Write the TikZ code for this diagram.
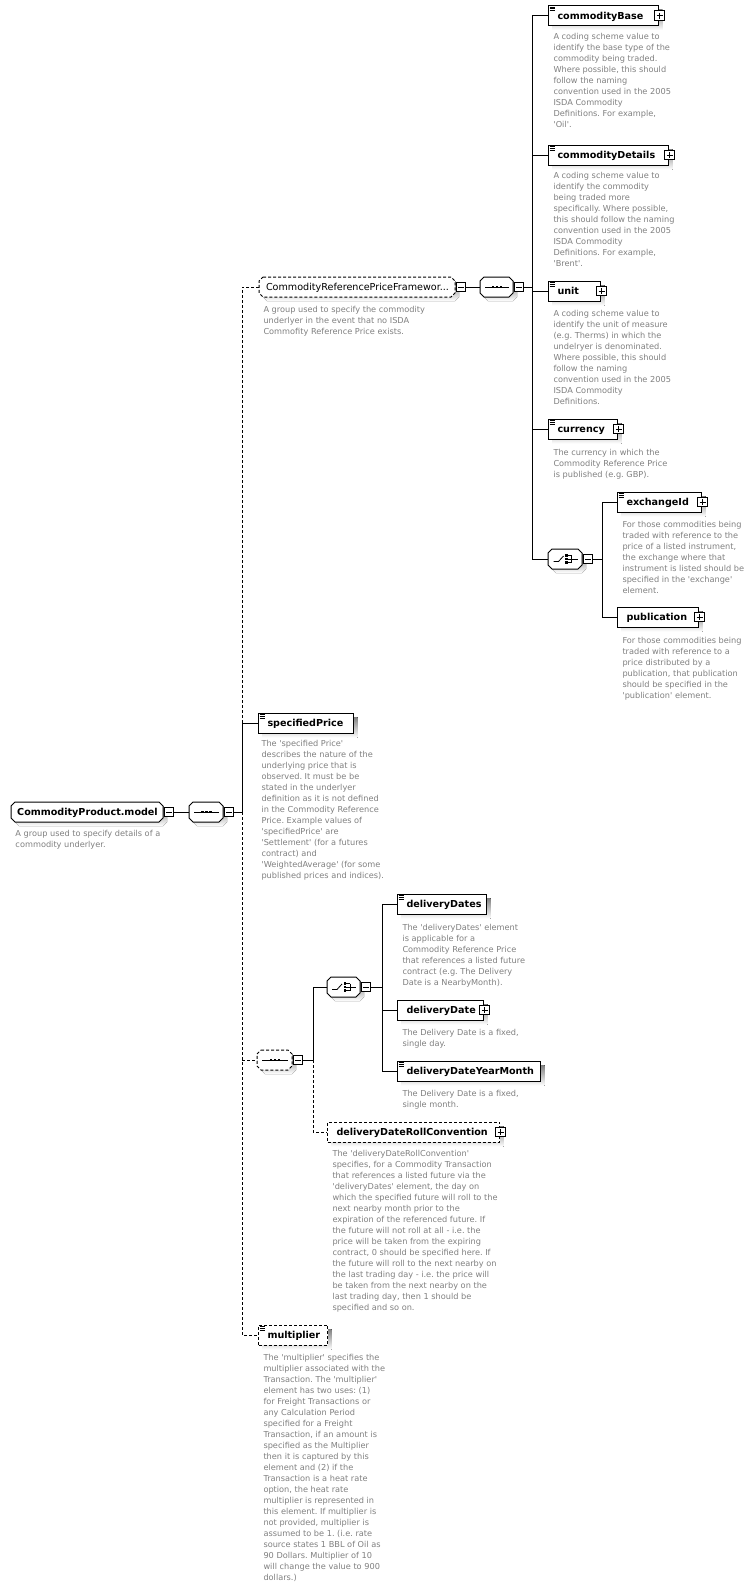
\documentclass[tikz,border=0pt]{standalone}
\usepackage{fontspec}
\setmainfont{DejaVu Sans}
\definecolor{shade}{RGB}{192,192,192}
\definecolor{descgray}{RGB}{128,128,128}
\newcommand{\titlefont}{\fontsize{9.6}{11}\selectfont\bfseries}
\newcommand{\namefont}{\fontsize{9.6}{11}\selectfont}
\newcommand{\descfont}{\fontsize{8.2}{11}\selectfont\frenchspacing}
\newcommand{\ap}{\textquotesingle}

\tikzset{
  elbox/.style={draw, fill=white, anchor=west, minimum height=20pt, inner sep=0pt},
  eltitle/.style={anchor=base west, inner sep=0pt, font=\titlefont},
  desc/.style={anchor=north west, inner sep=0pt, align=left, text=descgray, font=\descfont},
  pm/.style={draw, fill=white, minimum size=9.5pt, inner sep=0pt},
  opt/.style={dash pattern=on 3pt off 2pt},
  frame/.style={anchor=west, minimum height=20pt, inner sep=0pt},
}

% element box with shadow: [style]{name}{left}{right}{centre y}{title}
\newcommand{\elem}[6][]{%
  \fill[shade] (#3+4,#5-6) rectangle (#4+4.5,#5+14.5);
  \node[elbox,#1,minimum width=#4-#3] (#2) at (#3,#5) {};
  \node[eltitle] (#2-t) at (#3+9,#5+3.5) {#6};
}
% group / compositor outline: [style]{name}{left}{right}{centre y}
\newcommand{\octo}[5][]{%
  \fill[shade,shift={(4,4)}] (#3+4,#5-10) -- (#4-4,#5-10) -- (#4,#5-6) -- (#4,#5+6)
    -- (#4-4,#5+10) -- (#3+4,#5+10) -- (#3,#5+6) -- (#3,#5-6) -- cycle;
  \draw[fill=white,#1] (#3+4,#5-10) -- (#4-4,#5-10) -- (#4,#5-6) -- (#4,#5+6)
    -- (#4-4,#5+10) -- (#3+4,#5+10) -- (#3,#5+6) -- (#3,#5-6) -- cycle;
  \node[frame,minimum width=#4-#3] (#2) at (#3,#5) {};
}
\newcommand{\addplus}[1]{%
  \node[pm] (#1-plus) at ([xshift=0.5pt]#1.east) {};
  \draw[line width=0.8pt] (#1-plus.center) ++(-3,0) -- ++(6,0) (#1-plus.center) ++(0,-3) -- ++(0,6);
}
\newcommand{\addminus}[1]{%
  \node[pm] (#1-minus) at ([xshift=5pt]#1.east) {};
  \draw[line width=0.8pt] (#1-minus.center) ++(-3,0) -- ++(6,0);
}
\newcommand{\docicon}[1]{%
  \foreach \d in {1.8,3.6,5.4} \draw[line width=0.6pt] ([shift={(1.5,\d)}]#1.north west) -- ++(5.5,0);
}
\newcommand{\seqsym}[1]{%
  \draw[line width=0.8pt] ([xshift=5pt]#1.west) -- ([xshift=-5pt]#1.east);
  \foreach \d in {-4,0,4} \fill ([shift={(\d,0)}]#1.center) +(-1.3,-1.3) rectangle +(1.3,1.3);
}
\newcommand{\choicesym}[1]{%
  \draw[line width=0.8pt] ([shift={(-12,2.5)}]#1.center) -- ++(5,0) -- ++(5,-5.5);
  \foreach \d in {-3.5,0,3.5} {
    \fill ([shift={(1,\d)}]#1.center) +(-1.2,-1.2) rectangle +(1.2,1.2);
    \draw[line width=0.8pt] ([shift={(2,\d)}]#1.center) -- ++(4,0);
  }
  \draw[line width=0.8pt] ([shift={(6,-3.5)}]#1.center) -- ++(0,7) ([shift={(6,0)}]#1.center) -- ++(6,0);
}

\begin{document}
\begin{tikzpicture}[x=1pt, y=-1pt, line width=1pt]
  \useasboundingbox[fill=white] (0,0) rectangle (750,1588);

  % root group and its sequence
  \octo{root}{11}{163}{812}
  \node[font=\titlefont, anchor=base, inner sep=0pt] (root-t) at ([shift={(0,3.5)}]root.center) {CommodityProduct.model};
  \addminus{root}
  \octo{rootseq}{189}{223}{812}
  \seqsym{rootseq}
  \addminus{rootseq}
  \node[desc] (root-d) at (15,829.5) {A group used to specify details of a\\commodity underlyer.};

  % optional group CommodityReferencePriceFramework
  \octo[opt]{crpf}{259}{455}{287}
  \node[font=\namefont, anchor=base, inner sep=0pt] (crpf-t) at ([shift={(0,3.5)}]crpf.center) {CommodityReferencePriceFramewor...};
  \addminus{crpf}
  \octo{crpfseq}{480}{513}{287}
  \seqsym{crpfseq}
  \addminus{crpfseq}
  \node[desc] (crpf-d) at (263,305.5) {A group used to specify the commodity\\underlyer in the event that no ISDA\\Commofity Reference Price exists.};

  \elem{cbase}{548}{658}{15.5}{commodityBase}
  \docicon{cbase} \addplus{cbase}
  \node[desc] (cbase-d) at (553,32.5) {A coding scheme value to\\identify the base type of the\\commodity being traded.\\Where possible, this should\\follow the naming\\convention used in the 2005\\ISDA Commodity\\Definitions. For example,\\\ap Oil\ap.};

  \elem{cdetails}{548}{668}{155}{commodityDetails}
  \docicon{cdetails} \addplus{cdetails}
  \node[desc] (cdetails-d) at (553,171.5) {A coding scheme value to\\identify the commodity\\being traded more\\specifically. Where possible,\\this should follow the naming\\convention used in the 2005\\ISDA Commodity\\Definitions. For example,\\\ap Brent\ap.};

  \elem{unit}{548}{600}{291}{unit}
  \docicon{unit} \addplus{unit}
  \node[desc] (unit-d) at (553,309.5) {A coding scheme value to\\identify the unit of measure\\(e.g. Therms) in which the\\undelryer is denominated.\\Where possible, this should\\follow the naming\\convention used in the 2005\\ISDA Commodity\\Definitions.};

  \elem{currency}{548}{617}{429}{currency}
  \docicon{currency} \addplus{currency}
  \node[desc] (currency-d) at (553,448.5) {The currency in which the\\Commodity Reference Price\\is published (e.g. GBP).};

  % choice between exchangeId and publication
  \octo{choice1}{548}{582}{559}
  \choicesym{choice1}
  \addminus{choice1}

  \elem{exchid}{617}{701}{502}{exchangeId}
  \docicon{exchid} \addplus{exchid}
  \node[desc] (exchid-d) at (622,520.5) {For those commodities being\\traded with reference to the\\price of a listed instrument,\\the exchange where that\\instrument is listed should be\\specified in the \ap exchange\ap\\element.};

  \elem{publication}{617}{698}{617}{publication}
  \addplus{publication}
  \node[desc] (publication-d) at (622,636.5) {For those commodities being\\traded with reference to a\\price distributed by a\\publication, that publication\\should be specified in the\\\ap publication\ap{} element.};

  % specifiedPrice
  \elem{specprice}{258}{353}{723}{specifiedPrice}
  \docicon{specprice}
  \node[desc] (specprice-d) at (261,739.5) {The \ap specified Price\ap\\describes the nature of the\\underlying price that is\\observed. It must be be\\stated in the underlyer\\definition as it is not defined\\in the Commodity Reference\\Price. Example values of\\\ap specifiedPrice\ap{} are\\\ap Settlement\ap{} (for a futures\\contract) and\\\ap WeightedAverage\ap{} (for some\\published prices and indices).};

  % optional sequence of delivery dates
  \octo[opt]{lowseq}{257}{292}{1060}
  \seqsym{lowseq}
  \addminus{lowseq}
  \octo{choice2}{327}{360}{987}
  \choicesym{choice2}
  \addminus{choice2}

  \elem{ddates}{397}{486}{904}{deliveryDates}
  \docicon{ddates}
  \node[desc] (ddates-d) at (402,923.5) {The \ap deliveryDates\ap{} element\\is applicable for a\\Commodity Reference Price\\that references a listed future\\contract (e.g. The Delivery\\Date is a NearbyMonth).};

  \elem{ddate}{397}{483}{1010}{deliveryDate}
  \addplus{ddate}
  \node[desc] (ddate-d) at (402,1028.5) {The Delivery Date is a fixed,\\single day.};

  \elem{ddym}{397}{540}{1071}{deliveryDateYearMonth}
  \docicon{ddym}
  \node[desc] (ddym-d) at (402,1089.5) {The Delivery Date is a fixed,\\single month.};

  \elem[opt]{droll}{327}{499}{1132}{deliveryDateRollConvention}
  \addplus{droll}
  \node[desc] (droll-d) at (332,1149.5) {The \ap deliveryDateRollConvention\ap\\specifies, for a Commodity Transaction\\that references a listed future via the\\\ap deliveryDates\ap{} element, the day on\\which the specified future will roll to the\\next nearby month prior to the\\expiration of the referenced future. If\\the future will not roll at all - i.e. the\\price will be taken from the expiring\\contract, 0 should be specified here. If\\the future will roll to the next nearby on\\the last trading day - i.e. the price will\\be taken from the next nearby on the\\last trading day, then 1 should be\\specified and so on.};

  % multiplier
  \elem[opt]{multiplier}{258}{327}{1335}{multiplier}
  \docicon{multiplier}
  \node[desc] (multiplier-d) at (263,1353.5) {The \ap multiplier\ap{} specifies the\\multiplier associated with the\\Transaction. The \ap multiplier\ap\\element has two uses: (1)\\for Freight Transactions or\\any Calculation Period\\specified for a Freight\\Transaction, if an amount is\\specified as the Multiplier\\then it is captured by this\\element and (2) if the\\Transaction is a heat rate\\option, the heat rate\\multiplier is represented in\\this element. If multiplier is\\not provided, multiplier is\\assumed to be 1. (i.e. rate\\source states 1 BBL of Oil as\\90 Dollars. Multiplier of 10\\will change the value to 900\\dollars.)};

  % connector bars
  \coordinate (barA) at (242,0);
  \coordinate (barB) at (532,0);
  \coordinate (barC) at (602,0);
  \coordinate (barD) at (313,0);
  \coordinate (barE) at (382,0);

  \draw (root-minus.east) -- (rootseq.west);
  \draw (rootseq-minus.east) -- (rootseq-minus.east -| barA);
  \draw[opt] (crpf.west) -- (crpf.west -| barA) -- (specprice.west -| barA);
  \draw (specprice.west) -- (specprice.west -| barA) -- (rootseq.east -| barA);
  \draw[opt] (rootseq.east -| barA) -- (multiplier.west -| barA) -- (multiplier.west);
  \draw[opt] (lowseq.west -| barA) -- (lowseq.west);

  \draw (crpf-minus.east) -- (crpfseq.west);
  \draw (crpfseq-minus.east) -- (crpfseq-minus.east -| barB);
  \draw (cbase.west) -- (cbase.west -| barB) -- (choice1.west -| barB) -- (choice1.west);
  \foreach \n in {cdetails,unit,currency} \draw (\n.west) -- (\n.west -| barB);
  \draw (choice1-minus.east) -- (choice1-minus.east -| barC);
  \draw (exchid.west) -- (exchid.west -| barC) -- (publication.west -| barC) -- (publication.west);

  \draw (lowseq-minus.east) -- (lowseq-minus.east -| barD);
  \draw (choice2.west) -- (choice2.west -| barD) -- (lowseq.east -| barD);
  \draw[opt] (lowseq.east -| barD) -- (droll.west -| barD) -- (droll.west);
  \draw (choice2-minus.east) -- (choice2-minus.east -| barE);
  \draw (ddates.west) -- (ddates.west -| barE) -- (ddym.west -| barE) -- (ddym.west);
  \draw (ddate.west) -- (ddate.west -| barE);
\end{tikzpicture}
\end{document}
